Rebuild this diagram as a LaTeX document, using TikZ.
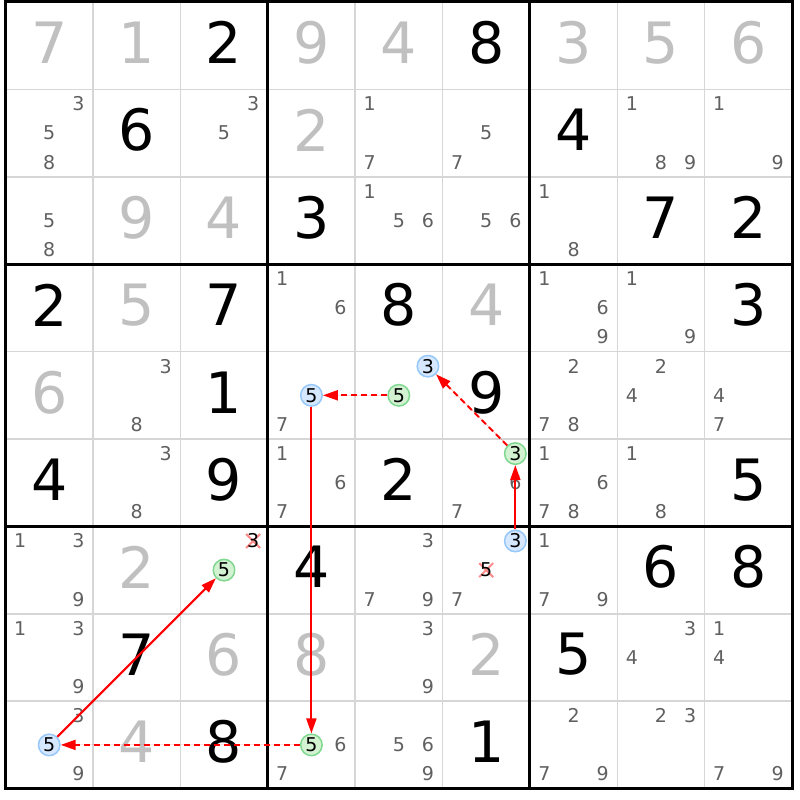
\documentclass[tikz,border=0pt]{standalone}
\usepackage{fontspec}
\setmainfont{DejaVu Sans}
\usetikzlibrary{arrows.meta}
\definecolor{solgray}{HTML}{C0C0C0}
\definecolor{candgray}{HTML}{606060}
\definecolor{thingrid}{HTML}{D6D6D6}
\definecolor{bluefill}{HTML}{D6E8FF}
\definecolor{blueline}{HTML}{96C8FA}
\definecolor{greenfill}{HTML}{D2F2D2}
\definecolor{greenline}{HTML}{80D890}
\definecolor{xred}{HTML}{FF8C8C}
\definecolor{arrred}{HTML}{FF0000}

\newcommand\cellsz{87.4}
\newcommand\gridx{5.5}
\newcommand\gridy{2}

% big digit: style, row, col, digit
\newcommand\bigd[4]{%
  \node[#1] (g#2#3) at ({\gridx+(#3-0.5)*\cellsz},{\gridy+(#2-0.5)*\cellsz}) {#4};}
% candidate position
\newcommand\candpos[3]{%
  \pgfmathsetmacro\candX{\gridx+(#2-1)*\cellsz+\cellsz/6+mod(#3-1,3)*\cellsz/3}%
  \pgfmathsetmacro\candY{\gridy+(#1-1)*\cellsz+\cellsz/6+floor((#3-1)/3)*\cellsz/3}}
% candidate: [style], row, col, digit
\newcommand\cnd[4][cand]{%
  \candpos{#2}{#3}{#4}%
  \node[#1] (n#2#3#4) at (\candX,\candY) {#4};}
\newcommand\cands[3]{\foreach \d in {#3}{\cnd{#1}{#2}{\d}}}
% eliminated candidate: cross drawn first, digit on top
\newcommand\elimc[3]{%
  \candpos{#1}{#2}{#3}%
  \draw[xline] (\candX-7,\candY-7) -- (\candX+7,\candY+7)
               (\candX-7,\candY+7) -- (\candX+7,\candY-7);
  \node[elim] (n#1#2#3) at (\candX,\candY) {#3};}

\tikzset{
  giv/.style={font=\fontsize{57}{57}\selectfont, text=black, yshift=3pt, inner sep=0pt},
  sol/.style={giv, text=solgray},
  cand/.style={font=\fontsize{19}{19}\selectfont, text=candgray, inner sep=0pt},
  elim/.style={cand, text=black},
  bluec/.style={cand, text=black, circle, draw=blueline, fill=bluefill, line width=1.5pt, minimum size=21.5pt},
  greenc/.style={cand, text=black, circle, draw=greenline, fill=greenfill, line width=1.5pt, minimum size=21.5pt},
  xline/.style={draw=xred, line width=2pt},
  thin/.style={draw=thingrid, line width=1.5pt},
  thick/.style={draw=black, line width=3pt},
  arr/.style={draw=arrred, fill=arrred, line width=2pt, -{Triangle[length=15pt,width=10pt]}},
  darr/.style={arr, line width=2pt, dash pattern=on 6pt off 4pt},
}

\begin{document}
\begin{tikzpicture}[x=1pt,y=-1pt]
\fill[white] (0,0) rectangle (800,800);
\useasboundingbox (0,0) rectangle (800,800);

% grid
\foreach \i in {1,2,4,5,7,8}{
  \draw[thin] ({\gridx+\i*\cellsz},\gridy) -- ({\gridx+\i*\cellsz},{\gridy+9*\cellsz});
  \draw[thin] (\gridx,{\gridy+\i*\cellsz}) -- ({\gridx+9*\cellsz},{\gridy+\i*\cellsz});
}
\foreach \i in {0,3,6,9}{
  \draw[thick] ({\gridx+\i*\cellsz},{\gridy-1.5}) -- ({\gridx+\i*\cellsz},{\gridy+9*\cellsz+1.5});
  \draw[thick] ({\gridx-1.5},{\gridy+\i*\cellsz}) -- ({\gridx+9*\cellsz+1.5},{\gridy+\i*\cellsz});
}

% row 1
\bigd{sol}{1}{1}{7}\bigd{sol}{1}{2}{1}\bigd{giv}{1}{3}{2}
\bigd{sol}{1}{4}{9}\bigd{sol}{1}{5}{4}\bigd{giv}{1}{6}{8}
\bigd{sol}{1}{7}{3}\bigd{sol}{1}{8}{5}\bigd{sol}{1}{9}{6}
% row 2
\cands{2}{1}{3,5,8}\bigd{giv}{2}{2}{6}\cands{2}{3}{3,5}
\bigd{sol}{2}{4}{2}\cands{2}{5}{1,7}\cands{2}{6}{5,7}
\bigd{giv}{2}{7}{4}\cands{2}{8}{1,8,9}\cands{2}{9}{1,9}
% row 3
\cands{3}{1}{5,8}\bigd{sol}{3}{2}{9}\bigd{sol}{3}{3}{4}
\bigd{giv}{3}{4}{3}\cands{3}{5}{1,5,6}\cands{3}{6}{5,6}
\cands{3}{7}{1,8}\bigd{giv}{3}{8}{7}\bigd{giv}{3}{9}{2}
% row 4
\bigd{giv}{4}{1}{2}\bigd{sol}{4}{2}{5}\bigd{giv}{4}{3}{7}
\cands{4}{4}{1,6}\bigd{giv}{4}{5}{8}\bigd{sol}{4}{6}{4}
\cands{4}{7}{1,6,9}\cands{4}{8}{1,9}\bigd{giv}{4}{9}{3}
% row 5
\bigd{sol}{5}{1}{6}\cands{5}{2}{3,8}\bigd{giv}{5}{3}{1}
\cnd[bluec]{5}{4}{5}\cnd{5}{4}{7}
\cnd[bluec]{5}{5}{3}\cnd[greenc]{5}{5}{5}
\bigd{giv}{5}{6}{9}
\cands{5}{7}{2,7,8}\cands{5}{8}{2,4}\cands{5}{9}{4,7}
% row 6
\bigd{giv}{6}{1}{4}\cands{6}{2}{3,8}\bigd{giv}{6}{3}{9}
\cands{6}{4}{1,6,7}\bigd{giv}{6}{5}{2}
\cnd[greenc]{6}{6}{3}\cands{6}{6}{6,7}
\cands{6}{7}{1,6,7,8}\cands{6}{8}{1,8}\bigd{giv}{6}{9}{5}
% row 7
\cands{7}{1}{1,3,9}\bigd{sol}{7}{2}{2}
\elimc{7}{3}{3}\cnd[greenc]{7}{3}{5}
\bigd{giv}{7}{4}{4}\cands{7}{5}{3,7,9}
\cnd[bluec]{7}{6}{3}\elimc{7}{6}{5}\cnd{7}{6}{7}
\cands{7}{7}{1,7,9}\bigd{giv}{7}{8}{6}\bigd{giv}{7}{9}{8}
% row 8
\cands{8}{1}{1,3,9}\bigd{giv}{8}{2}{7}\bigd{sol}{8}{3}{6}
\bigd{sol}{8}{4}{8}\cands{8}{5}{3,9}\bigd{sol}{8}{6}{2}
\bigd{giv}{8}{7}{5}\cands{8}{8}{3,4}\cands{8}{9}{1,4}
% row 9
\cnd{9}{1}{3}\cnd[bluec]{9}{1}{5}\cnd{9}{1}{9}
\bigd{sol}{9}{2}{4}\bigd{giv}{9}{3}{8}
\cnd[greenc]{9}{4}{5}\cands{9}{4}{6,7}
\cands{9}{5}{5,6,9}\bigd{giv}{9}{6}{1}
\cands{9}{7}{2,7,9}\cands{9}{8}{2,3}\cands{9}{9}{7,9}

% chain
\draw[arr]  (n763) -- (n663);
\draw[darr] (n663) -- (n553);
\draw[darr] (n555) -- (n545);
\draw[arr]  (n545) -- (n945);
\draw[darr] (n945) -- (n915);
\draw[arr]  (n915) -- (n735);
\end{tikzpicture}
\end{document}
